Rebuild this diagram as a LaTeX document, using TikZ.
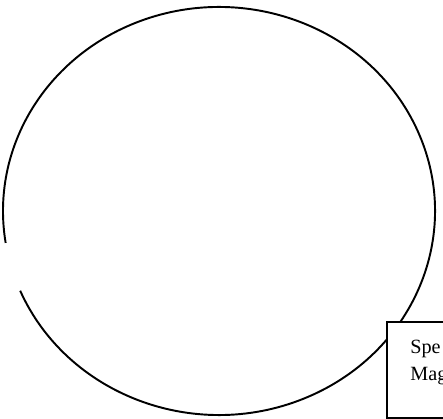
\documentclass[tikz,border=0pt]{standalone}
\usepackage{fontspec}
\setmainfont{Liberation Serif}
\usetikzlibrary{positioning}

\begin{document}
\begin{tikzpicture}[
    x=0.02cm, y=0.02cm,
    outline/.style={line width=1.1pt, black},
    notebox/.style={
      rectangle, draw=black, fill=white, line width=0.9pt,
      minimum width=3cm, minimum height=1.92cm, inner sep=0pt,
      anchor=north west
    },
    notetext/.style={font=\fontsize{11.5}{15}\selectfont, align=left,
      inner sep=0pt, anchor=north west}
  ]
    \useasboundingbox (0,0) rectangle (443,419);

    % Big circle, open on the left side
    \coordinate (centre) at (219,208);
    \draw[outline] (centre) ++(203:216 and 204)
      arc[start angle=203, end angle=549, x radius=216, y radius=204];

    % Note box at the lower right, running off the page
    \node[notebox] (note) at (386,98) {};
    \node[notetext] (notetext) at (410,79) {Spe\\Mag};
  \end{tikzpicture}
\end{document}
